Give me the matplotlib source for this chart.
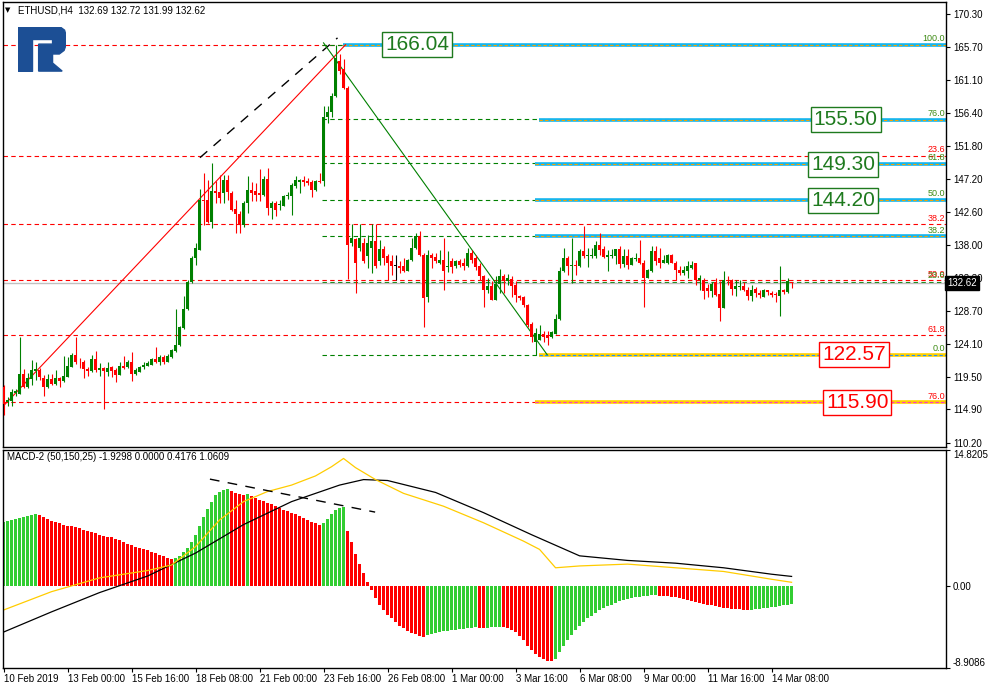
import numpy as np
import matplotlib
matplotlib.use('Agg')
from matplotlib import pyplot as plt
from matplotlib.patches import Polygon, Rectangle
from matplotlib.transforms import blended_transform_factory

plt.rcParams['font.family'] = ['Liberation Sans', 'DejaVu Sans']

# ETHUSD H4 candles (bar 0 = 10 Feb 2019 08:00)
opens = [118.1, 116.0, 116.1, 117.2, 117.1, 119.9, 118.1, 119.2, 120.3, 120.4,
         119.3, 118.0, 119.1, 118.5, 119.3, 118.9, 119.5, 120.9, 122.5, 121.6,
         121.6, 120.6, 120.3, 122.0, 120.4, 120.7, 120.2, 120.8, 120.4, 119.7,
         121.0, 120.8, 121.5, 119.9, 120.2, 120.8, 121.0, 121.1, 121.9, 121.5,
         122.2, 121.6, 122.2, 123.1, 124.0, 126.3, 129.0, 132.7, 136.1, 137.3,
         144.3, 144.3, 141.2, 145.5, 145.4, 145.3, 147.1, 145.25, 143.06, 142.35,
         140.8, 143.8, 145.6, 145.5, 145.2, 144.9, 147.2, 143.15, 143.85, 143.5,
         143.4, 144.8, 144.8, 146.2, 146.8, 147.0, 146.9, 146.8, 145.6, 146.9,
         146.9, 155.9, 156.6, 158.8, 163.8, 162.7, 160.0, 138.2, 138.8, 137.5,
         138.2, 136.4, 137.5, 138.5, 135.65, 137.4, 136.45, 135.65, 135.0, 135.05,
         134.95, 134.35, 135.8, 137.5, 139.2, 136.6, 130.6, 136.6, 136.3, 135.5,
         135.9, 134.86, 135.65, 134.95, 135.65, 135.4, 135.05, 136.8, 136.1, 134.95,
         133.65, 131.65, 132.25, 130.2, 132.5, 133.65, 132.85, 133.2, 132.4, 130.85,
         130.65, 129.55, 126.9, 124.4, 124.65, 125.5, 125.35, 125.0, 125.5, 127.55,
         134.25, 136.1, 135.05, 135.2, 135.05, 137.05, 136.35, 136.4, 136.35, 138.0,
         137.4, 136.25, 136.4, 136.35, 137.4, 135.35, 136.35, 135.2, 136.0, 136.1,
         135.5, 133.3, 134.25, 137.05, 136.1, 135.5, 135.5, 136.6, 135.4, 134.5,
         134.0, 134.25, 134.7, 135.4, 133.1, 133.1, 131.9, 131.45, 132.7, 131.1,
         129.1, 133.1, 133.0, 131.8, 132.05, 132.25, 131.65, 130.85, 131.75, 131.2,
         130.65, 131.6, 131.2, 131.1, 130.85, 131.6, 131.3, 132.69]
highs = [118.3, 116.7, 117.7, 117.8, 125.0, 120.5, 120.0, 121.8, 121.5, 120.7,
         119.7, 119.8, 119.8, 120.4, 119.5, 122.4, 122.3, 122.8, 125.1, 122.1,
         121.8, 120.9, 122.6, 123.1, 121.4, 120.8, 121.5, 121.0, 120.7, 121.6,
         122.4, 121.8, 122.9, 120.7, 121.0, 121.5, 121.7, 122.1, 123.6, 122.5,
         122.5, 122.7, 123.4, 129.0, 126.6, 130.8, 133.0, 136.4, 138.3, 145.8,
         148.1, 147.1, 149.4, 146.9, 147.8, 147.8, 147.8, 145.5, 144.3, 142.7,
         144.1, 147.6, 146.75, 146.6, 148.6, 147.6, 148.8, 144.1, 144.1, 144.3,
         145.0, 145.4, 146.6, 147.7, 147.2, 147.6, 147.4, 147.0, 147.1, 148.1,
         157.4, 157.4, 159.3, 166.0, 164.7, 164.0, 160.2, 140.9, 139.0, 140.9,
         138.9, 139.4, 140.9, 140.9, 138.7, 137.85, 136.7, 136.6, 136.6, 135.65,
         136.1, 136.0, 138.9, 139.7, 139.9, 136.8, 137.2, 136.9, 136.9, 137.2,
         138.9, 137.1, 136.1, 135.9, 136.0, 136.1, 137.5, 137.2, 136.6, 135.4,
         133.8, 133.3, 132.85, 133.55, 134.6, 133.9, 133.9, 133.55, 132.85, 131.0,
         130.8, 129.7, 127.1, 126.3, 126.8, 125.95, 125.95, 125.95, 128.3, 134.85,
         137.5, 136.45, 138.9, 135.9, 137.4, 140.55, 137.5, 137.5, 138.45, 139.7,
         137.8, 137.3, 137.4, 137.4, 137.8, 137.4, 137.4, 136.3, 136.8, 138.7,
         135.9, 134.6, 137.85, 137.8, 137.5, 136.6, 136.7, 136.7, 135.65, 134.95,
         134.95, 135.65, 135.65, 135.5, 133.8, 133.3, 132.5, 132.7, 133.3, 132.85,
         134.25, 133.65, 133.2, 133.1, 133.1, 132.7, 132.05, 132.4, 132.05, 131.6,
         131.8, 131.7, 131.45, 131.3, 135.05, 131.8, 133.3, 132.72]
lows = [114.1, 115.4, 115.4, 116.8, 117.0, 117.9, 117.9, 118.3, 119.0, 119.0,
        116.8, 117.9, 118.3, 118.3, 118.1, 118.8, 119.4, 120.8, 121.3, 120.7,
        119.3, 119.6, 120.2, 120.2, 119.6, 115.0, 119.6, 119.5, 118.7, 119.7,
        120.5, 120.7, 118.9, 119.7, 120.1, 120.6, 121.0, 121.1, 121.4, 121.1,
        121.2, 121.5, 122.1, 123.0, 123.8, 126.2, 128.8, 132.6, 135.2, 137.2,
        140.8, 141.0, 140.4, 143.9, 143.9, 143.9, 144.2, 142.7, 139.6, 139.6,
        140.5, 142.4, 144.1, 144.1, 144.1, 144.8, 142.2, 141.6, 142.0, 142.9,
        143.4, 144.4, 142.2, 146.0, 145.3, 146.2, 146.4, 144.7, 145.5, 146.7,
        146.2, 155.1, 155.9, 158.7, 161.9, 159.8, 133.2, 137.8, 131.2, 137.06,
        135.4, 134.7, 134.0, 134.7, 135.2, 135.2, 133.0, 133.8, 133.0, 134.0,
        134.1, 134.25, 135.65, 137.4, 136.4, 126.4, 129.9, 134.7, 135.4, 135.3,
        131.7, 134.1, 134.0, 134.7, 134.9, 134.5, 134.9, 135.4, 134.5, 133.1,
        129.3, 131.2, 130.2, 130.2, 131.2, 131.2, 132.4, 130.7, 129.9, 130.25,
        129.3, 126.5, 124.4, 122.55, 124.65, 124.4, 123.95, 124.9, 125.5, 127.5,
        134.1, 133.8, 132.6, 133.8, 134.85, 136.1, 134.85, 136.1, 136.1, 136.6,
        136.1, 134.25, 136.1, 135.3, 134.7, 134.85, 134.6, 135.2, 135.65, 135.3,
        129.3, 133.3, 134.1, 135.2, 134.7, 135.4, 135.3, 135.4, 133.1, 133.8,
        133.8, 133.3, 134.6, 132.4, 131.7, 130.35, 130.65, 130.65, 130.85, 127.25,
        129.1, 132.4, 131.0, 130.85, 131.7, 131.45, 130.3, 130.05, 130.65, 130.5,
        130.65, 131.0, 130.65, 129.9, 128.0, 131.1, 131.2, 131.99]
closes = [115.6, 116.2, 117.3, 117.5, 119.9, 118.1, 119.3, 120.4, 120.6, 119.4,
          118.0, 119.2, 118.5, 119.3, 118.9, 119.6, 121.0, 122.5, 121.5, 121.5,
          120.5, 120.3, 122.0, 120.4, 120.7, 120.3, 120.7, 120.3, 119.7, 121.0,
          120.7, 121.5, 119.9, 120.4, 120.8, 121.1, 121.4, 121.9, 121.5, 122.2,
          121.5, 122.4, 123.2, 124.0, 126.4, 129.0, 132.7, 136.1, 137.5, 144.3,
          144.1, 141.2, 145.5, 145.2, 144.6, 147.1, 145.35, 142.9, 142.35, 140.8,
          143.8, 145.6, 145.3, 144.9, 145.0, 147.2, 143.2, 143.85, 142.8, 143.7,
          144.8, 145.0, 146.3, 147.0, 147.0, 146.8, 146.7, 145.6, 146.9, 146.75,
          155.9, 156.6, 158.9, 164.2, 162.3, 160.0, 138.0, 138.9, 135.5, 138.9,
          135.65, 138.2, 138.5, 134.95, 137.4, 136.2, 135.5, 134.95, 135.0, 134.7,
          134.35, 135.9, 137.5, 139.2, 136.6, 130.5, 136.6, 136.1, 135.65, 135.9,
          134.25, 135.05, 134.86, 135.65, 135.2, 135.05, 136.9, 135.9, 134.86, 133.65,
          131.65, 132.25, 130.2, 132.5, 133.65, 132.85, 133.3, 132.15, 130.95, 130.5,
          129.55, 126.75, 125.1, 125.6, 125.5, 125.1, 124.9, 125.7, 127.55, 134.25,
          136.1, 135.05, 135.2, 134.95, 137.05, 136.35, 136.6, 136.6, 138.0, 137.2,
          136.25, 136.6, 136.6, 137.4, 135.35, 136.35, 135.2, 136.1, 136.1, 135.4,
          133.3, 134.4, 137.05, 135.65, 135.5, 135.8, 136.6, 135.4, 134.4, 134.0,
          134.4, 134.95, 135.2, 133.1, 133.3, 131.45, 131.45, 132.5, 131.0, 129.1,
          133.1, 132.85, 131.8, 132.15, 132.25, 131.6, 130.85, 131.65, 131.2, 130.95,
          131.65, 131.3, 130.95, 131.0, 131.65, 131.3, 132.85, 132.62]

# MACD(50,150,25) histogram, one value per candle
macd_hist = [7.0, 7.1, 7.2, 7.3, 7.4, 7.5, 7.6, 7.7, 7.8,
             7.7, 7.5, 7.3, 7.1, 7.0, 6.9, 6.7, 6.6, 6.5, 6.4,
             6.3, 6.1, 6.0, 5.9, 5.8, 5.6, 5.5, 5.4, 5.3, 5.1,
             5.0, 4.8, 4.6, 4.5, 4.3, 4.2, 4.0, 3.9, 3.7, 3.6,
             3.4, 3.3, 3.1, 3.0,
             3.1, 3.3, 3.7, 4.2, 4.8, 5.6, 6.5, 7.5, 8.4, 9.2, 9.9, 10.3, 10.5, 10.6,
             10.4, 10.1, 10.05, 9.9, 10.0, 9.8, 9.6, 9.4, 9.3, 9.1,
             8.9, 8.7, 8.5, 8.3, 8.2, 8.0, 7.8, 7.6, 7.4, 7.2,
             7.0, 6.9, 6.7, 6.9, 7.3, 7.8, 8.3, 8.5, 8.6,
             6.0, 4.8, 3.5, 2.4, 1.4, 0.5, -0.4, -1.3, -2.0, -2.6,
             -3.1, -3.5, -3.9, -4.3, -4.6, -4.9, -5.1, -5.2, -5.4, -5.5,
             -5.3, -5.2, -5.1, -5.0, -4.9, -4.85, -4.8, -4.75, -4.7, -4.65,
             -4.6, -4.55, -4.5, -4.55, -4.6, -4.55, -4.5, -4.45, -4.4, -4.5,
             -4.6, -4.8, -5.0, -5.4, -5.9, -6.5, -7.0, -7.4, -7.7, -7.9, -8.1, -8.2,
             -7.9, -7.2, -6.5, -5.9, -5.3, -4.8, -4.3, -3.9, -3.5, -3.2,
             -2.9, -2.6, -2.4, -2.2, -2.0, -1.8, -1.65, -1.5, -1.4, -1.3,
             -1.2, -1.15, -1.1, -1.05, -1.0, -0.98,
             -1.05, -1.1, -1.12, -1.15, -1.2, -1.3, -1.4, -1.5, -1.6, -1.7,
             -1.8, -1.9, -2.0, -2.1, -2.2, -2.3, -2.35, -2.4, -2.45, -2.5,
             -2.52, -2.55, -2.6,
             -2.55, -2.5, -2.45, -2.4, -2.35, -2.3, -2.25, -2.2, -2.1, -2.0, -1.93]

# the two MACD lines, sampled at some bars
black_bars = [0, 12, 24, 36, 48, 60, 72, 84, 90, 96, 108, 120, 132, 144, 156, 168, 180, 192, 197]
black_vals = [-5.0, -2.8, -0.7, 1.1, 3.6, 6.7, 9.2, 11.0, 11.6, 11.5, 10.2, 8.0, 5.6, 3.3, 2.8, 2.5, 2.0, 1.3, 1.06]
yellow_bars = [0, 12, 24, 36, 42, 48, 54, 60, 66, 72, 78, 82, 85, 88, 93, 100, 110, 120,
               130, 134, 138, 144, 156, 168, 180, 192, 197]
yellow_vals = [-2.6, -0.6, 0.9, 1.7, 2.3, 4.3, 7.2, 9.2, 10.3, 11.0, 12.0, 13.0, 13.9, 12.9, 11.6,
               10.1, 8.7, 6.9, 4.9, 4.0, 2.0, 2.2, 2.4, 2.0, 1.6, 0.75, 0.42]

price_ticks = [170.30, 165.70, 161.10, 156.40, 151.80, 147.20, 142.60, 138.00,
               133.30, 128.70, 124.10, 119.50, 114.90, 110.20]
time_ticks = [0, 16, 32, 48, 64, 80, 96, 112, 128, 144, 160, 176, 192]
time_labels = ['10 Feb 2019', '13 Feb 00:00', '15 Feb 16:00', '18 Feb 08:00', '21 Feb 00:00',
               '23 Feb 16:00', '26 Feb 08:00', '1 Mar 00:00', '3 Mar 16:00', '6 Mar 08:00',
               '9 Mar 00:00', '11 Mar 16:00', '14 Mar 08:00']

# fibonacci objects
fib_high, fib_low = 166.04, 122.57          # green fibo (low -> high)
red_top, red_bottom = 166.04, 100.07        # red fibo (high -> down)
green_ratios = [0.0, 23.6, 38.2, 50.0, 61.8, 76.0, 100.0]
red_ratios = [23.6, 38.2, 50.0, 61.8, 76.0]

# marked horizontal levels: (price, first bar)
blue_levels = [(166.04, 84.9), (155.50, 133.9), (149.30, 132.9), (144.20, 132.9), (139.17, 132.9)]
yellow_levels = [(122.57, 133.9), (115.90, 132.9)]
# price boxes: (text, price, bar of box centre, colour)
price_boxes = [('166.04', 166.04, 103.4, '#1e7a1e'), ('155.50', 155.50, 210.5, '#1e7a1e'),
               ('149.30', 149.30, 209.9, '#1e7a1e'), ('144.20', 144.20, 209.9, '#1e7a1e'),
               ('122.57', 122.57, 212.6, '#ff0000'), ('115.90', 115.90, 213.4, '#ff0000')]
last_price = 132.62

W, H = 989, 690
fig = plt.figure(figsize=(W / 100, H / 100), dpi=100)


def px_box(x0, y0, x1, y1):
    # pixel rectangle (top-left origin) -> figure fraction
    return [x0 / W, 1 - y1 / H, (x1 - x0) / W, (y1 - y0) / H]


ax = fig.add_axes(px_box(2.5, 1.5, 946, 447))
axm = fig.add_axes(px_box(2.5, 450, 946, 668))
xlim = (-0.25, 235.6)

# ---------------- price panel ----------------
o = np.array(opens)
h = np.array(highs)
l = np.array(lows)
c = np.array(closes)
x = np.arange(len(o))
col = np.where(c > o, '#008000', np.where(c < o, '#ff0000', '#000000'))
ax.vlines(x, l, h, colors=col, lw=0.8, zorder=3)
ax.bar(x, np.maximum(np.abs(c - o), 0.1), bottom=np.minimum(o, c), width=0.72,
       color=col, lw=0, zorder=3)

# red fibo levels across the whole chart
red_dash = (0, (4, 3))
ax.axhline(red_top, color='#ff0000', lw=0.8, ls=red_dash, zorder=1)
for r in red_ratios:
    p = red_top - r / 100 * (red_top - red_bottom)
    ax.axhline(p, color='#ff0000', lw=0.8, ls=red_dash, zorder=1)
    ax.text(235.3, p + 0.2, f'{r:.1f}', color='#ff0000', fontsize=6.5, ha='right', va='bottom')

# green fibo levels starting at the swing high
for r in green_ratios:
    p = fib_low + r / 100 * (fib_high - fib_low)
    ax.hlines(p, 79.6, xlim[1], color='#008000', lw=0.8, linestyles=[red_dash], zorder=1)
    ax.text(235.3, p + 0.2, f'{r:.1f}', color='#3d8a14', fontsize=6.5, ha='right', va='bottom')

# highlighted levels
for p, start in blue_levels:
    ax.hlines(p, start, xlim[1], color='#13b5f0', lw=2.6, zorder=2)
    ax.hlines(p, start, xlim[1], color='#f5a300', lw=0.8, linestyles=[(0, (3, 2))], zorder=2)
for (p, start), dcol in zip(yellow_levels, ['#1e90ff', '#ff33cc']):
    ax.hlines(p, start, xlim[1], color='#ffd000', lw=2.6, zorder=2)
    ax.hlines(p, start, xlim[1], color=dcol, lw=0.8, linestyles=[(0, (3, 2))], zorder=2)

# trend lines
ax.plot([0.0, 85.5], [115.4, 166.04], color='#ff0000', lw=0.8, zorder=2)
ax.plot([49.1, 83.5], [150.2, 167.0], color='#000000', lw=1.0, ls=(0, (7, 6)), zorder=2)
ax.plot([80.0, 135.9], [166.3, fib_low], color='#008000', lw=0.8, zorder=2)

# bid line
ax.axhline(last_price, color='#c0c0c0', lw=1.0, zorder=1)

for txt, p, bx, tc in price_boxes:
    ax.text(bx, p, txt, color=tc, fontsize=15, ha='center', va='center', zorder=6,
            bbox=dict(boxstyle='square,pad=0.14', fc='white', ec=tc, lw=1.0))

ax.set_xlim(*xlim)
ax.set_ylim(109.63, 172.1)
ax.set_xticks([])
ax.yaxis.tick_right()
ax.set_yticks(price_ticks)
ax.set_yticklabels([f'{t:.2f}' for t in price_ticks])
ax.tick_params(axis='y', direction='out', length=3, width=0.8, pad=2, labelsize=7)
trans = blended_transform_factory(ax.transAxes, ax.transData)
ax.text(1.0015, last_price, f'{last_price:.2f}', transform=trans, color='white', fontsize=7,
        ha='left', va='center', zorder=7,
        bbox=dict(boxstyle='square,pad=0.2', fc='black', ec='black'))

# ---------------- MACD panel ----------------
hist = np.array(macd_hist)
hcol = ['#32cd32'] + ['#32cd32' if hist[i] >= hist[i - 1] else '#ff0000' for i in range(1, len(hist))]
axm.bar(np.arange(len(hist)), hist, width=0.75, color=hcol, lw=0)
axm.plot(black_bars, black_vals, color='black', lw=0.9)
axm.plot(yellow_bars, yellow_vals, color='#ffcc00', lw=0.9)
axm.plot([51.6, 92.9], [11.65, 8.06], color='black', lw=1.0, ls=(0, (7, 6)))

axm.set_xlim(*xlim)
axm.set_ylim(-8.9086, 14.8205)
axm.yaxis.tick_right()
axm.set_yticks([14.8205, 0.0, -8.9086])
axm.set_yticklabels(['14.8205', '0.00', '-8.9086'])
axm.tick_params(axis='y', direction='out', length=3, width=0.8, pad=2, labelsize=7)
ylabs = axm.get_yticklabels()
ylabs[0].set_va('top')
ylabs[2].set_va('bottom')
axm.set_xticks(time_ticks)
axm.set_xticklabels(time_labels, ha='left')
axm.tick_params(axis='x', direction='out', length=3, width=0.8, pad=1, labelsize=7)

for a in (ax, axm):
    for s in a.spines.values():
        s.set_linewidth(1.0)

# header texts
fig.text(5 / W, 1 - 10.5 / H, '▼', fontsize=5, va='center', family='DejaVu Sans')
fig.text(18 / W, 1 - 10.5 / H, 'ETHUSD,H4  132.69 132.72 131.99 132.62', fontsize=7, va='center')
fig.text(7 / W, 1 - 457 / H, 'MACD-2 (50,150,25) -1.9298 0.0000 0.4176 1.0609', fontsize=7, va='center')

# broker logo
lg = fig.add_axes(px_box(18, 27, 66, 72))
lg.set_xlim(0, 1)
lg.set_ylim(0, 1)
lg.axis('off')
blue = '#1c4f95'
lg.add_patch(Rectangle((0, 0.02), 0.29, 0.98, color=blue))
lg.add_patch(Rectangle((0, 0.74), 0.8, 0.26, color=blue))
lg.add_patch(Polygon([(0.72, 1.0), (0.88, 1.0), (0.97, 0.93), (1.0, 0.82), (1.0, 0.6),
                      (0.96, 0.48), (0.86, 0.40), (0.43, 0.40), (0.43, 0.62), (0.72, 0.62),
                      (0.72, 0.74)], color=blue))
lg.add_patch(Polygon([(0.43, 0.40), (0.72, 0.40), (0.72, 0.20), (0.92, 0.02), (0.43, 0.02)],
                     color=blue))

plt.savefig('out.png', dpi=100)
